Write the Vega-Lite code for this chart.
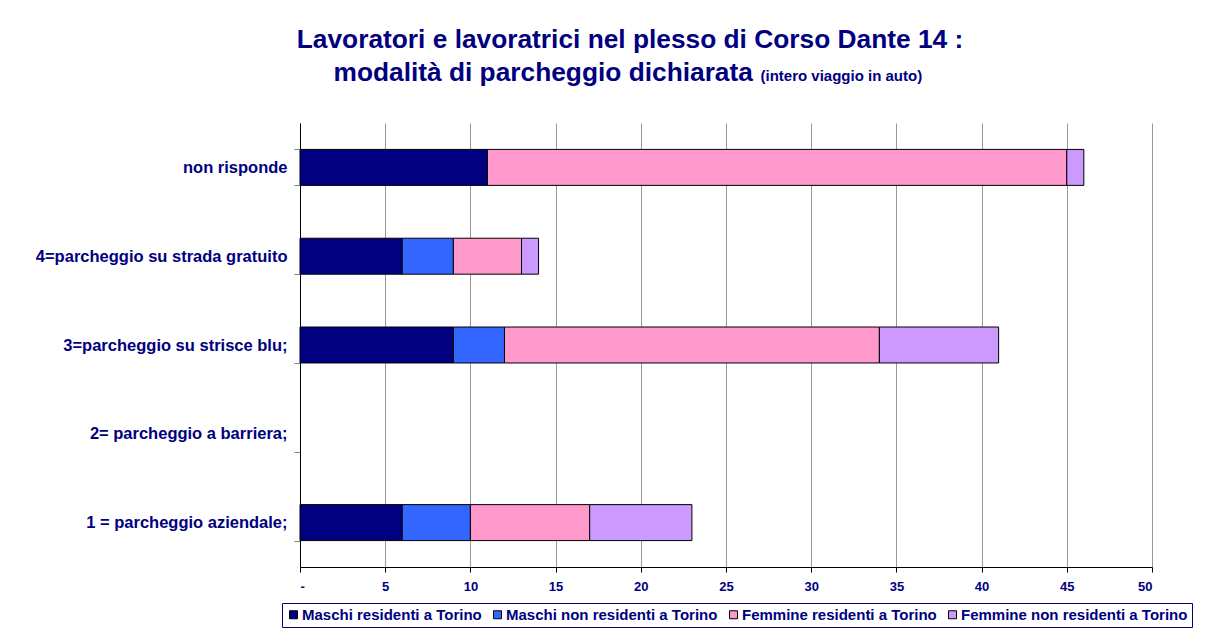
{
  "$schema": "https://vega.github.io/schema/vega-lite/v6.json",
  "width": 852,
  "height": 444,
  "autosize": "none",
  "padding": {"left": 300, "top": 123, "right": 62, "bottom": 69},
  "background": "white",
  "title": {
    "text": "Lavoratori e lavoratrici nel plesso di Corso Dante 14 :",
    "anchor": "middle",
    "frame": "group",
    "align": "center",
    "dx": -96,
    "font": "Liberation Sans",
    "fontSize": 26.3,
    "fontWeight": "bold",
    "color": "#000080",
    "offset": 6
  },
  "data": {
    "values": [
      {"cat": "non risponde", "group": "Maschi residenti a Torino", "k": 1, "n": 11},
      {"cat": "non risponde", "group": "Femmine residenti a Torino", "k": 3, "n": 34},
      {"cat": "non risponde", "group": "Femmine non residenti a Torino", "k": 4, "n": 1},
      {"cat": "4=parcheggio su strada gratuito", "group": "Maschi residenti a Torino", "k": 1, "n": 6},
      {"cat": "4=parcheggio su strada gratuito", "group": "Maschi non residenti a Torino", "k": 2, "n": 3},
      {"cat": "4=parcheggio su strada gratuito", "group": "Femmine residenti a Torino", "k": 3, "n": 4},
      {"cat": "4=parcheggio su strada gratuito", "group": "Femmine non residenti a Torino", "k": 4, "n": 1},
      {"cat": "3=parcheggio su strisce blu;", "group": "Maschi residenti a Torino", "k": 1, "n": 9},
      {"cat": "3=parcheggio su strisce blu;", "group": "Maschi non residenti a Torino", "k": 2, "n": 3},
      {"cat": "3=parcheggio su strisce blu;", "group": "Femmine residenti a Torino", "k": 3, "n": 22},
      {"cat": "3=parcheggio su strisce blu;", "group": "Femmine non residenti a Torino", "k": 4, "n": 7},
      {"cat": "1 = parcheggio aziendale;", "group": "Maschi residenti a Torino", "k": 1, "n": 6},
      {"cat": "1 = parcheggio aziendale;", "group": "Maschi non residenti a Torino", "k": 2, "n": 4},
      {"cat": "1 = parcheggio aziendale;", "group": "Femmine residenti a Torino", "k": 3, "n": 7},
      {"cat": "1 = parcheggio aziendale;", "group": "Femmine non residenti a Torino", "k": 4, "n": 6}
    ]
  },
  "mark": {"type": "bar", "stroke": "black", "strokeWidth": 1},
  "encoding": {
    "y": {
      "field": "cat",
      "type": "nominal",
      "scale": {
        "domain": ["non risponde", "4=parcheggio su strada gratuito", "3=parcheggio su strisce blu;", "2= parcheggio a barriera;", "1 = parcheggio aziendale;"],
        "paddingInner": 0.595,
        "paddingOuter": 0.2975
      },
      "axis": {
        "title": "modalità di parcheggio dichiarata",
        "titleAngle": 0,
        "titleX": 33,
        "titleY": -43,
        "titleAlign": "left",
        "titleBaseline": "alphabetic",
        "titleFont": "Liberation Sans",
        "titleFontSize": 26.3,
        "titleFontWeight": "bold",
        "titleColor": "#000080",
        "tickBand": "extent",
        "tickColor": "#808080",
        "tickSize": 6,
        "domainColor": "black",
        "labelFont": "Liberation Sans",
        "labelFontSize": 16.5,
        "labelFontWeight": "bold",
        "labelColor": "#000080",
        "labelPadding": 7,
        "labelLimit": 400,
        "grid": false
      }
    },
    "x": {
      "field": "n",
      "type": "quantitative",
      "stack": "zero",
      "scale": {"domain": [0, 50], "nice": false},
      "axis": {
        "title": "(intero viaggio in auto)",
        "titleX": 460,
        "titleY": -487,
        "titleAlign": "left",
        "titleBaseline": "alphabetic",
        "titleFont": "Liberation Sans",
        "titleFontSize": 15,
        "titleFontWeight": "bold",
        "titleColor": "#000080",
        "values": [0, 5, 10, 15, 20, 25, 30, 35, 40, 45, 50],
        "labelExpr": "datum.value == 0 ? '-' : datum.label",
        "grid": true,
        "gridColor": "#999999",
        "gridOpacity": 1,
        "domainColor": "black",
        "tickColor": "black",
        "tickSize": 5,
        "labelFont": "Liberation Sans",
        "labelFontSize": 13,
        "labelFontWeight": "bold",
        "labelColor": "#000080",
        "labelPadding": 8
      }
    },
    "color": {
      "field": "group",
      "type": "nominal",
      "scale": {
        "domain": ["Maschi residenti a Torino", "Maschi non residenti a Torino", "Femmine residenti a Torino", "Femmine non residenti a Torino"],
        "range": ["#000080", "#3366FF", "#FF99CC", "#CC99FF"]
      },
      "legend": {
        "title": null,
        "orient": "none",
        "legendX": -18,
        "legendY": 480,
        "direction": "horizontal",
        "symbolType": "square",
        "symbolSize": 64,
        "symbolStrokeColor": "black",
        "symbolStrokeWidth": 1,
        "labelFont": "Liberation Sans",
        "labelFontSize": 15,
        "labelFontWeight": "bold",
        "labelColor": "#000080",
        "labelOffset": 1,
        "columnPadding": 8,
        "strokeColor": "#000080",
        "padding": 4,
        "labelLimit": 400
      }
    },
    "order": {"field": "k", "type": "quantitative"}
  },
  "config": {
    "view": {"stroke": null}
  }
}
